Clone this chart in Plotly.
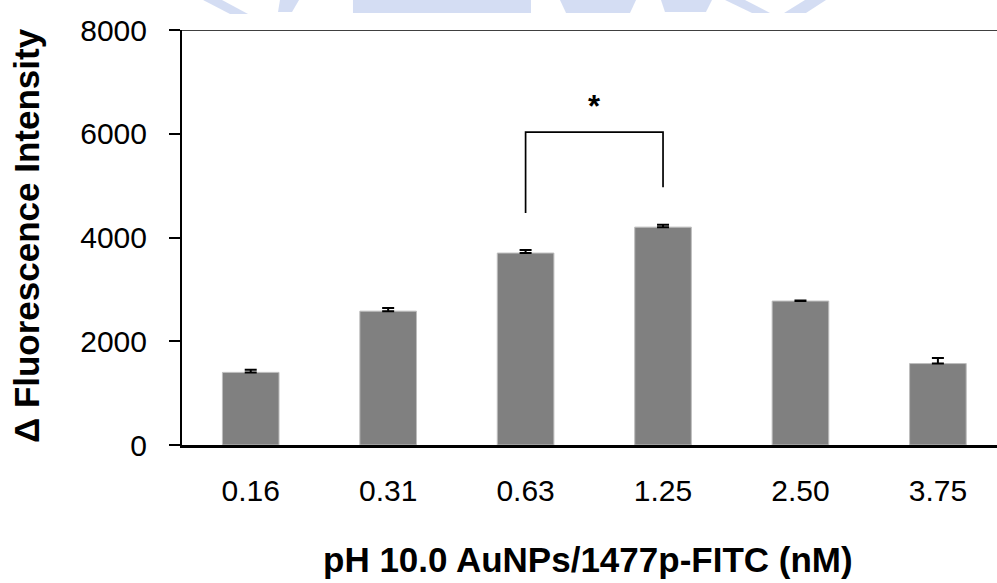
import plotly.graph_objects as go

categories = ["0.16", "0.31", "0.63", "1.25", "2.50", "3.75"]
values = [1400, 2580, 3700, 4200, 2775, 1570]
errors = [50, 60, 58, 45, 12, 105]
y_ticks = [0, 2000, 4000, 6000, 8000]

# significance bracket between 0.63 and 1.25
bracket_x = [2, 2, 3, 3]
bracket_y = [4470, 6030, 6030, 4970]
star_y = 6520

FONT = "Liberation Sans, Arial, sans-serif"

W, H = 997, 583
L, R, T, B = 182, 0, 30, 138
pw = W - L - R
ph = H - T - B


def px(x):
    return (x - L) / pw


def py(y):
    return (H - B - y) / ph


fig = go.Figure()
fig.add_trace(go.Bar(
    x=list(range(len(categories))), y=values, width=0.412,
    marker=dict(color="#808080", line=dict(color="#bdbdbd", width=1)),
    error_y=dict(type="data", symmetric=False, array=errors,
                 arrayminus=[0] * len(errors), color="black",
                 thickness=2, width=6),
    showlegend=False,
))
fig.add_trace(go.Scatter(
    x=bracket_x, y=bracket_y, mode="lines",
    line=dict(color="black", width=1.7), showlegend=False, hoverinfo="skip",
))

fig.add_annotation(x=2.5, y=star_y, text="<b>*</b>", showarrow=False,
                   font=dict(family=FONT, size=31, color="black"),
                   xanchor="center", yanchor="middle")

# top border line at 8000
fig.add_shape(type="line", xref="paper", yref="y", x0=0, x1=1, y0=8000, y1=8000,
              line=dict(color="black", width=1.5))

# faint watermark fragments along the top edge
wm = "rgba(160,180,228,0.45)"
polys = [
    [(203, 0), (222, 0), (248, 14), (230, 14)],
    [(280, 0), (299, 0), (292, 12), (278, 12)],
    [(353, 0), (531, 0), (531, 13), (353, 13)],
    [(560, 0), (636, 0), (630, 13), (566, 13)],
    [(661, 0), (712, 0), (706, 12), (665, 12)],
    [(725, 0), (745, 0), (770, 13), (752, 13)],
    [(805, 0), (826, 0), (806, 13), (784, 13)],
]
for poly in polys:
    path = "M " + " L ".join(f"{px(a):.4f},{py(b):.4f}" for a, b in poly) + " Z"
    fig.add_shape(type="path", xref="paper", yref="paper", path=path,
                  fillcolor=wm, line=dict(width=0), layer="below")

fig.add_annotation(xref="paper", yref="paper",
                   x=px(26), y=py(236),
                   text="<b>Δ Fluorescence Intensity</b>", textangle=-90,
                   showarrow=False, xanchor="center", yanchor="middle",
                   font=dict(family=FONT, size=35, color="black"))
fig.add_annotation(xref="paper", yref="paper",
                   x=px(588), y=py(559),
                   text="<b>pH 10.0 AuNPs/1477p-FITC (nM)</b>",
                   showarrow=False, xanchor="center", yanchor="middle",
                   font=dict(family=FONT, size=35, color="black"))

fig.update_layout(
    width=W, height=H,
    margin=dict(l=L, r=R, t=T, b=B, pad=0),
    paper_bgcolor="white", plot_bgcolor="white",
    font=dict(family=FONT, size=30, color="black"),
    bargap=0.5,
)
fig.update_xaxes(
    range=[-0.5, 5.43], tickmode="array",
    tickvals=list(range(len(categories))), ticktext=categories,
    showgrid=False, zeroline=False, showline=True, linecolor="black",
    linewidth=2.5, ticks="", ticklabelstandoff=17,
    tickfont=dict(family=FONT, size=30, color="black"),
)
fig.update_yaxes(
    range=[0, 8000], tickmode="array", tickvals=y_ticks,
    ticktext=[str(v) for v in y_ticks],
    showgrid=False, zeroline=False, showline=True, linecolor="black",
    linewidth=2, ticks="outside", ticklen=11, tickwidth=1.5, tickcolor="black",
    ticklabelstandoff=16,
    tickfont=dict(family=FONT, size=30, color="black"),
)

fig.write_html("out.html")
